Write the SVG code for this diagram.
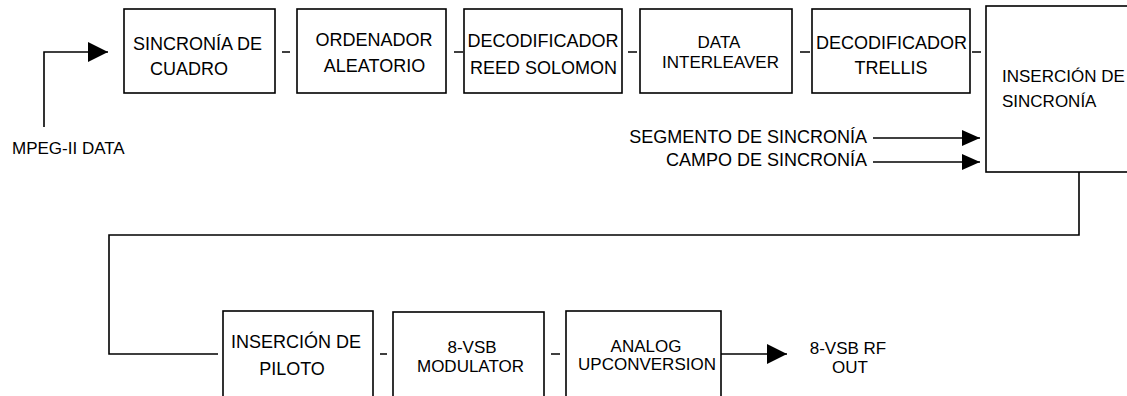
<svg xmlns="http://www.w3.org/2000/svg" width="1127" height="396" viewBox="0 0 1127 396">
<style>
  .box{fill:#fff;stroke:#000;stroke-width:1.6}
  .ln{fill:none;stroke:#000;stroke-width:1.6}
  text{font-family:"Liberation Sans",Arial,sans-serif;font-size:17px;fill:#000}
  .c{text-anchor:middle}
  .r{text-anchor:end}
  .big{font-size:18px}
</style>
<defs>
  <marker id="ah" viewBox="0 0 20 20" refX="20" refY="10" markerWidth="20" markerHeight="20" markerUnits="userSpaceOnUse" orient="auto">
    <path d="M0,0 L20,10 L0,20 Z" fill="#000"/>
  </marker>
  <marker id="ahs" viewBox="0 0 18 16" refX="18" refY="8" markerWidth="18" markerHeight="16" markerUnits="userSpaceOnUse" orient="auto">
    <path d="M0,0 L18,8 L0,16 Z" fill="#000"/>
  </marker>
</defs>
<rect width="1127" height="396" fill="#fff"/>
<g id="connectors">
  <path class="ln" d="M44,127 V52 H108" marker-end="url(#ah)"/>
  <path class="ln" d="M282,52 H290 M454,52 H463 M628,52 H637 M800,52 H810 M972,52 H981"/>
  <path class="ln" d="M873,138 H980" marker-end="url(#ahs)"/>
  <path class="ln" d="M873,162 H980" marker-end="url(#ahs)"/>
  <path class="ln" d="M1079,172 V235 H109 V354 H218"/>
  <path class="ln" d="M380,354 H387 M551,354 H560"/>
  <path class="ln" d="M721,354 H787" marker-end="url(#ah)"/>
</g>
<g id="input-label">
  <text x="12" y="154">MPEG-II DATA</text>
</g>
<g id="sincronia-cuadro">
  <rect class="box" x="124" y="9" width="151" height="84"/>
  <text class="c big" x="197.5" y="50">SINCRONÍA DE</text>
  <text class="c big" x="189" y="75">CUADRO</text>
</g>
<g id="ordenador-aleatorio">
  <rect class="box" x="297" y="9" width="149" height="84"/>
  <text class="c big" x="374" y="46">ORDENADOR</text>
  <text class="c big" x="374.5" y="72">ALEATORIO</text>
</g>
<g id="decodificador-rs">
  <rect class="box" x="464" y="9" width="158" height="84"/>
  <text class="c big" x="543" y="47">DECODIFICADOR</text>
  <text class="c big" x="543.5" y="74">REED SOLOMON</text>
</g>
<g id="data-interleaver">
  <rect class="box" x="640" y="9" width="152" height="84"/>
  <text class="c" x="719" y="48">DATA</text>
  <text class="c" x="720.5" y="68">INTERLEAVER</text>
</g>
<g id="decodificador-trellis">
  <rect class="box" x="812" y="9" width="158" height="84"/>
  <text class="c big" x="891.5" y="49">DECODIFICADOR</text>
  <text class="c big" x="891" y="74">TRELLIS</text>
</g>
<g id="insercion-sincronia">
  <rect class="box" x="986" y="6" width="160" height="166"/>
  <text x="1002" y="82">INSERCIÓN DE</text>
  <text x="1002" y="107">SINCRONÍA</text>
</g>
<g id="sync-labels">
  <text class="r big" x="867" y="143">SEGMENTO DE SINCRONÍA</text>
  <text class="r big" x="867" y="166">CAMPO DE SINCRONÍA</text>
</g>
<g id="insercion-piloto">
  <rect class="box" x="223" y="311" width="150" height="100"/>
  <text class="c big" x="296" y="348">INSERCIÓN DE</text>
  <text class="c big" x="292" y="375">PILOTO</text>
</g>
<g id="vsb-modulator">
  <rect class="box" x="393" y="312" width="151" height="100"/>
  <text class="c" x="472" y="353">8-VSB</text>
  <text class="c" x="470.5" y="372">MODULATOR</text>
</g>
<g id="analog-upconversion">
  <rect class="box" x="566" y="311" width="155" height="100"/>
  <text class="c" x="646" y="352">ANALOG</text>
  <text class="c" x="647" y="370">UPCONVERSION</text>
</g>
<g id="output-label">
  <text class="c" x="848" y="354">8-VSB RF</text>
  <text class="c" x="850" y="373">OUT</text>
</g>
</svg>
